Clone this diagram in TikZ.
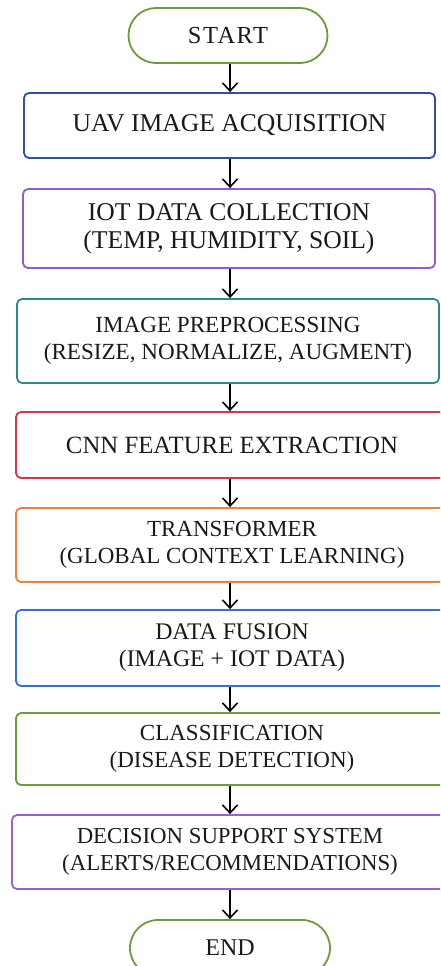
\documentclass[tikz,border=0pt]{standalone}
\usepackage{fontspec}
\setmainfont{Liberation Serif}
\usetikzlibrary{arrows.meta,shapes.misc}
\definecolor{cgreen}{HTML}{6C9A3C}
\definecolor{cdblue}{HTML}{2F4FA8}
\definecolor{cpurple}{HTML}{8E5CD6}
\definecolor{cteal}{HTML}{2E8A88}
\definecolor{cred}{HTML}{D8344A}
\definecolor{corange}{HTML}{F07F3F}
\definecolor{cblue}{HTML}{3570D2}
\definecolor{cviolet}{HTML}{9462D6}
\newcommand\fsz[2]{\fontsize{#1}{#2}\selectfont}
\begin{document}
\begin{tikzpicture}[x=1pt,y=-1pt,
  box/.style={draw=#1, line width=1.8pt, rounded corners=5pt, align=center,
    inner sep=0pt, text=black!90},
  term/.style={draw=cgreen, line width=1.8pt, rounded rectangle, align=center,
    inner sep=0pt, text=black!90},
  arr/.style={line width=1.6pt, -{Straight Barb[length=8pt,width=15pt,line width=1.6pt]}}]
\useasboundingbox (0,0) rectangle (440,966);
\clip (0,0) rectangle (440,966);
\coordinate (ax) at (230,0);
\node[term, minimum width=199pt, minimum height=55pt, font={\fsz{24.5}{27}\addfontfeatures{LetterSpace=6}}] (start) at (228,35.5) {START};
\node[box=cdblue, minimum width=411pt, minimum height=65pt, font=\fsz{25.6}{29}] (uav) at (229.5,125.5) {UAV IMAGE ACQUISITION};
\node[box=cpurple, minimum width=412pt, minimum height=79pt, font=\fsz{25.6}{28.5}] (iot) at (229,228.5) {IOT DATA COLLECTION\\(TEMP, HUMIDITY, SOIL)};
\node[box=cteal, minimum width=422pt, minimum height=84pt, font=\fsz{23.1}{26.5}] (pre) at (228,341) {IMAGE PREPROCESSING\\(RESIZE, NORMALIZE, AUGMENT)};
\node[box=cred, minimum width=432pt, minimum height=66pt, font=\fsz{24.8}{28}] (cnn) at (232,445) {CNN FEATURE EXTRACTION};
\node[box=corange, minimum width=432pt, minimum height=74pt, font=\fsz{23}{26.5}] (trans) at (232,545) {TRANSFORMER\\(GLOBAL CONTEXT LEARNING)};
\node[box=cblue, minimum width=432pt, minimum height=76pt, font=\fsz{23.8}{27}] (fus) at (232,648) {DATA FUSION\\(IMAGE + IOT DATA)};
\node[box=cgreen, minimum width=432pt, minimum height=72pt, font=\fsz{23}{26.5}] (cls) at (232,749) {CLASSIFICATION\\(DISEASE DETECTION)};
\node[box=cviolet, minimum width=436pt, minimum height=74pt, font=\fsz{22.8}{26.5}] (dss) at (230,852) {DECISION SUPPORT SYSTEM\\(ALERTS/RECOMMENDATIONS)};
\node[term, minimum width=200pt, minimum height=56pt, font=\fsz{24}{27}] (end) at (230,948) {END};
\draw[arr] (start.south -| ax) -- (uav.north -| ax);
\draw[arr] (uav.south -| ax) -- (iot.north -| ax);
\draw[arr] (iot.south -| ax) -- (pre.north -| ax);
\draw[arr] (pre.south -| ax) -- (cnn.north -| ax);
\draw[arr] (cnn.south -| ax) -- (trans.north -| ax);
\draw[arr] (trans.south -| ax) -- (fus.north -| ax);
\draw[arr] (fus.south -| ax) -- (cls.north -| ax);
\draw[arr] (cls.south -| ax) -- (dss.north -| ax);
\draw[arr] (dss.south -| ax) -- (end.north -| ax);
\end{tikzpicture}
\end{document}
